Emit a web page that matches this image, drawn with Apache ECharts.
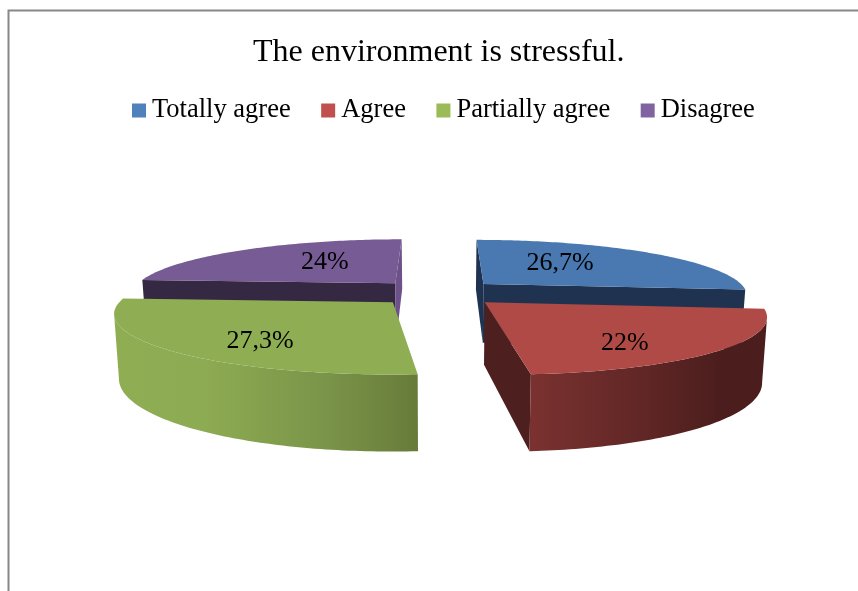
<!DOCTYPE html>
<html><head><meta charset="utf-8">
<style>html,body{margin:0;padding:0;background:#fff}#c{width:858px;height:591px}</style>
<script src="https://cdn.jsdelivr.net/npm/echarts@6/dist/echarts.min.js"></script>
</head><body><div id="c"></div>
<script>
const categories = ['Totally agree', 'Agree', 'Partially agree', 'Disagree'];
const values = [26.7, 22, 27.3, 24];
const valueLabels = ['26,7%', '22%', '27,3%', '24%'];

const chartTitle = 'The environment is stressful.';
const serif = '"Liberation Serif","Times New Roman",serif';
const legendColors = ['#4F81BD', '#C0504D', '#9BBB59', '#8064A2'];
const topColors = ['#4a78b0', '#b04a47', '#8fae54', '#775b95'];
const wallColors = ['#1f3350', '#4d1f1e', '#6a7f3a', '#352842'];
const endWallColors = ['#1f3350', '#4d1f1e', '#6a7f3a', '#6c5289'];
const rimStops = [
  null,
  [[0, '#7a3230'], [0.5, '#5f2625'], [0.8, '#4b1e1d'], [1, '#4b1e1d']],
  [[0, '#8fae54'], [0.3, '#8dab52'], [0.7, '#7a9449'], [1, '#677b39']],
  null
];
const seriesZ = [2, 4, 3, 2];
const labelPlace = [[0.38, 0.565], [0.616, 0.73], [0.42, 0.72], [0.61, 0.56]];

// projection of the tilted pie
const cx = 437.5, cy = 292.5, Rx = 265, Ry = 55, persp = 0.183, explode = 0.24, depth = 60.5, skew = 8, taper = 0.015;
const total = values.reduce((a, b) => a + b, 0);

function project(X, Y, z) {
  const s = 1 / (1 - persp * Y);
  return [cx + (Rx * X * s + skew * Math.max(Y, 0)) * (1 - taper * z), cy + Ry * Y * s + z * depth * s];
}
function area(p) {
  let a = 0;
  p.forEach((q, i) => { const r = p[(i + 1) % p.length]; a += q[0] * r[1] - r[0] * q[1]; });
  return a;
}
function renderSlice(index) {
  return function (params, api) {
    const v = api.value(0);
    const before = values.slice(0, index).reduce((a, b) => a + b, 0);
    const a0 = before / total * 360, a1 = (before + v) / total * 360;
    const rad = d => d * Math.PI / 180;
    const mid = rad((a0 + a1) / 2);
    const ox = explode * Math.sin(mid), oy = -explode * Math.cos(mid);
    const rim = (d, z) => project(ox + Math.sin(rad(d)), oy - Math.cos(rad(d)), z);
    const apex = z => project(ox, oy, z);
    const children = [];
    const poly = (points, fill) => children.push({
      type: 'polygon', shape: { points }, style: { fill, stroke: null }, silent: true
    });
    const startWall = [apex(0), rim(a0, 0), rim(a0, 1), apex(1)];
    const endWall = [apex(0), rim(a1, 0), rim(a1, 1), apex(1)];
    if (area(startWall) < 0) poly(startWall, wallColors[index]);
    if (area(endWall) > 0) poly(endWall, endWallColors[index]);
    if (rimStops[index]) {
      // outer wall runs between the rightmost and leftmost points of the rim
      let lo = a0, hi = a1;
      for (let d = a0; d <= a1; d += 0.5) {
        if (rim(d, 0)[0] > rim(lo, 0)[0]) lo = d;
        if (rim(d, 0)[0] < rim(hi, 0)[0]) hi = d;
      }
      const t = [], b = [];
      for (let d = lo; d < hi; d += 1) { t.push(rim(d, 0)); b.unshift(rim(d, 1)); }
      t.push(rim(hi, 0)); b.unshift(rim(hi, 1));
      poly(t.concat(b), new echarts.graphic.LinearGradient(0, 0, 1, 0,
        rimStops[index].map(s => ({ offset: s[0], color: s[1] }))));
    }
    const top = [apex(0)];
    for (let d = a0; d < a1; d += 1) top.push(rim(d, 0));
    top.push(rim(a1, 0));
    poly(top, topColors[index]);
    const [frac, r] = labelPlace[index];
    const la = rad(a0 + (a1 - a0) * frac);
    const lp = project(ox + r * Math.sin(la), oy - r * Math.cos(la), 0);
    children.push({
      type: 'text', silent: true,
      style: { text: valueLabels[index], x: lp[0], y: lp[1] + 1, align: 'center', verticalAlign: 'middle',
        font: '26px ' + serif, fill: '#000' }
    });
    return { type: 'group', children };
  };
}

const chart = echarts.init(document.getElementById('c'), null, { renderer: 'canvas' });
chart.setOption({
  animation: false,
  backgroundColor: '#fff',
  title: {
    text: chartTitle, left: 248, top: 32,
    textStyle: { fontFamily: serif, fontSize: 32, fontWeight: 'normal', color: '#000' }
  },
  legend: {
    data: categories, top: 92, left: 127, icon: 'rect',
    itemWidth: 14, itemHeight: 14, itemGap: 30.5,
    textStyle: { fontFamily: serif, fontSize: 26.5, color: '#000', padding: [0, 0, 0, 1] }
  },
  graphic: [{
    type: 'rect', silent: true, z: 0,
    shape: { x: 8.5, y: 10.5, width: 1000, height: 1000 },
    style: { fill: 'none', stroke: '#888', lineWidth: 2 }
  }],
  series: categories.map((name, i) => ({
    type: 'custom', name, coordinateSystem: 'none', z: seriesZ[i],
    itemStyle: { color: legendColors[i] },
    data: [[values[i]]],
    renderItem: renderSlice(i)
  }))
});
</script></body></html>
